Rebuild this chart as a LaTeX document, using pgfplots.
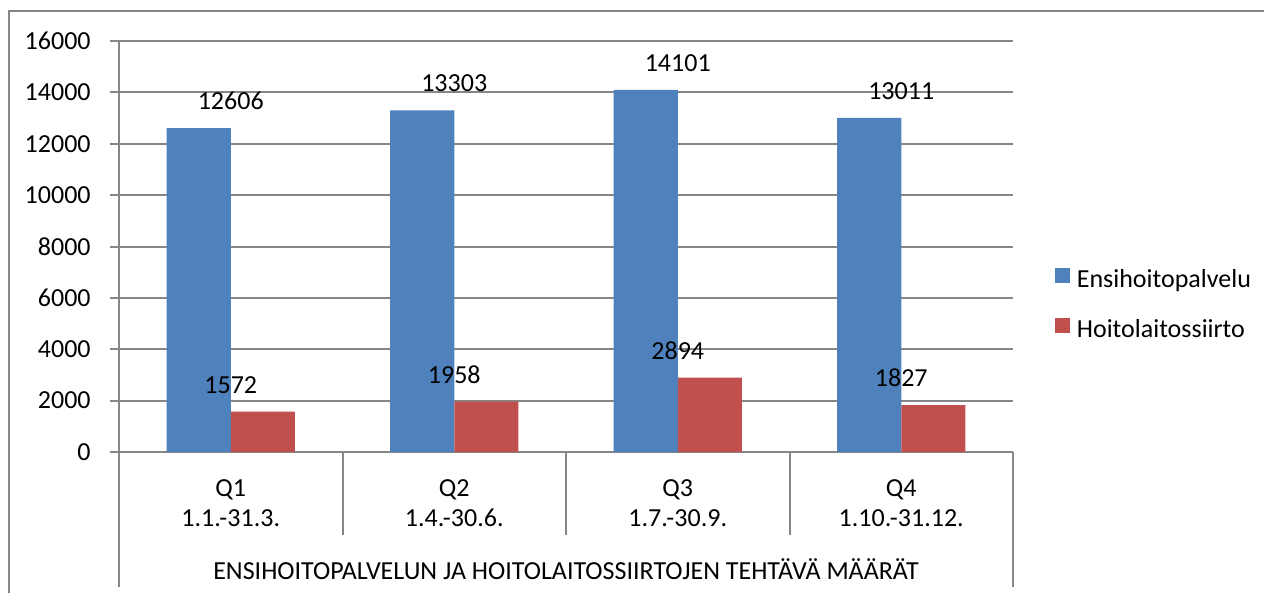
\documentclass[border=0pt]{standalone}
\usepackage{pgfplots}
\pgfplotsset{compat=1.18}
\usepackage{fontspec}
\setmainfont{Carlito}
\definecolor{bblue}{RGB}{79,129,189}
\definecolor{bred}{RGB}{192,80,77}
\definecolor{gridgray}{RGB}{134,134,134}
\pgfkeys{/pgf/number format/.cd,1000 sep={},assume math mode=true}
\newcommand{\lbl}{\fontsize{13}{15}\selectfont}
\begin{document}
\begin{tikzpicture}
\useasboundingbox (0pt,0pt) rectangle (632pt,-296.5pt);
\draw[gridgray, line width=1pt] (4.3pt,-300pt) -- (4.3pt,-5.5pt) -- (640pt,-5.5pt);
\begin{axis}[
  at={(59.5pt,-226pt)}, anchor=south west,
  width=447pt, height=205.5pt, scale only axis,
  xmin=-0.5, xmax=3.5, ymin=0, ymax=16000,
  clip=false,
  axis lines*=left,
  axis line style={-, draw=gridgray, line width=1pt},
  ymajorgrids, grid style={gridgray, line width=1pt},
  ytick={0,2000,...,16000},
  scaled y ticks=false,
  yticklabel={\pgfmathprintnumber[fixed,precision=0,1000 sep={},assume math mode=true]{\tick}},
  tick align=outside, major tick length=4.5pt,
  ytick style={gridgray, line width=1pt},
  xtick={0,1,2,3}, xtick style={draw=none},
  xticklabels={{Q1\\1.1.-31.3.},{Q2\\1.4.-30.6.},{Q3\\1.7.-30.9.},{Q4\\1.10.-31.12.}},
  xticklabel style={font=\lbl, align=center, inner sep=0pt, anchor=north, yshift=-9pt},
  yticklabel style={font=\lbl, inner sep=0pt, anchor=east, xshift=-9.5pt},
  xlabel={ENSIHOITOPALVELUN JA HOITOLAITOSSIIRTOJEN TEHTÄVÄ MÄÄRÄT},
  xlabel style={at={(rel axis cs:0.5,0)}, anchor=base, yshift=-63.5pt, inner sep=0pt, font=\lbl},
  nodes near coords,
  nodes near coords style={font=\lbl, anchor=south, inner sep=0pt, yshift=9pt, text=black},
  legend style={draw=none, fill=none, at={(1.0464,0.356)}, anchor=west, inner sep=0pt,
    row sep=12pt, font=\lbl, legend cell align=left,
    nodes={inner sep=0pt, text height=9pt, text depth=3pt}},
]
\addplot[ybar, fill=bblue, draw=none, bar width=0.2864, bar shift=-0.1432, forget plot]
  coordinates {(0,12606) (1,13303) (2,14101) (3,13011)};
\addplot[ybar, fill=bred, draw=none, bar width=0.2864, bar shift=0.1432, forget plot]
  coordinates {(0,1572) (1,1958) (2,2894) (3,1827)};
\addlegendimage{draw=none, legend image code/.code={\fill[bblue, draw=none] (0pt,-0.65pt) rectangle (7.5pt,6.85pt); \path[draw=none] (0pt,0pt) -- (11pt,0pt);}}
\addlegendentry{Ensihoitopalvelu}
\addlegendimage{draw=none, legend image code/.code={\fill[bred, draw=none] (0pt,-0.65pt) rectangle (7.5pt,6.85pt); \path[draw=none] (0pt,0pt) -- (11pt,0pt);}}
\addlegendentry{Hoitolaitossiirto}
\draw[gridgray, line width=1pt] (axis cs:0.5,0) -- ++(0pt,-41.5pt);
\draw[gridgray, line width=1pt] (axis cs:1.5,0) -- ++(0pt,-41.5pt);
\draw[gridgray, line width=1pt] (axis cs:2.5,0) -- ++(0pt,-41.5pt);
\draw[gridgray, line width=1pt] (rel axis cs:0,0) -- ++(0pt,-67.5pt);
\draw[gridgray, line width=1pt] (rel axis cs:1,0) -- ++(0pt,-67.5pt);
\end{axis}
\end{tikzpicture}
\end{document}
